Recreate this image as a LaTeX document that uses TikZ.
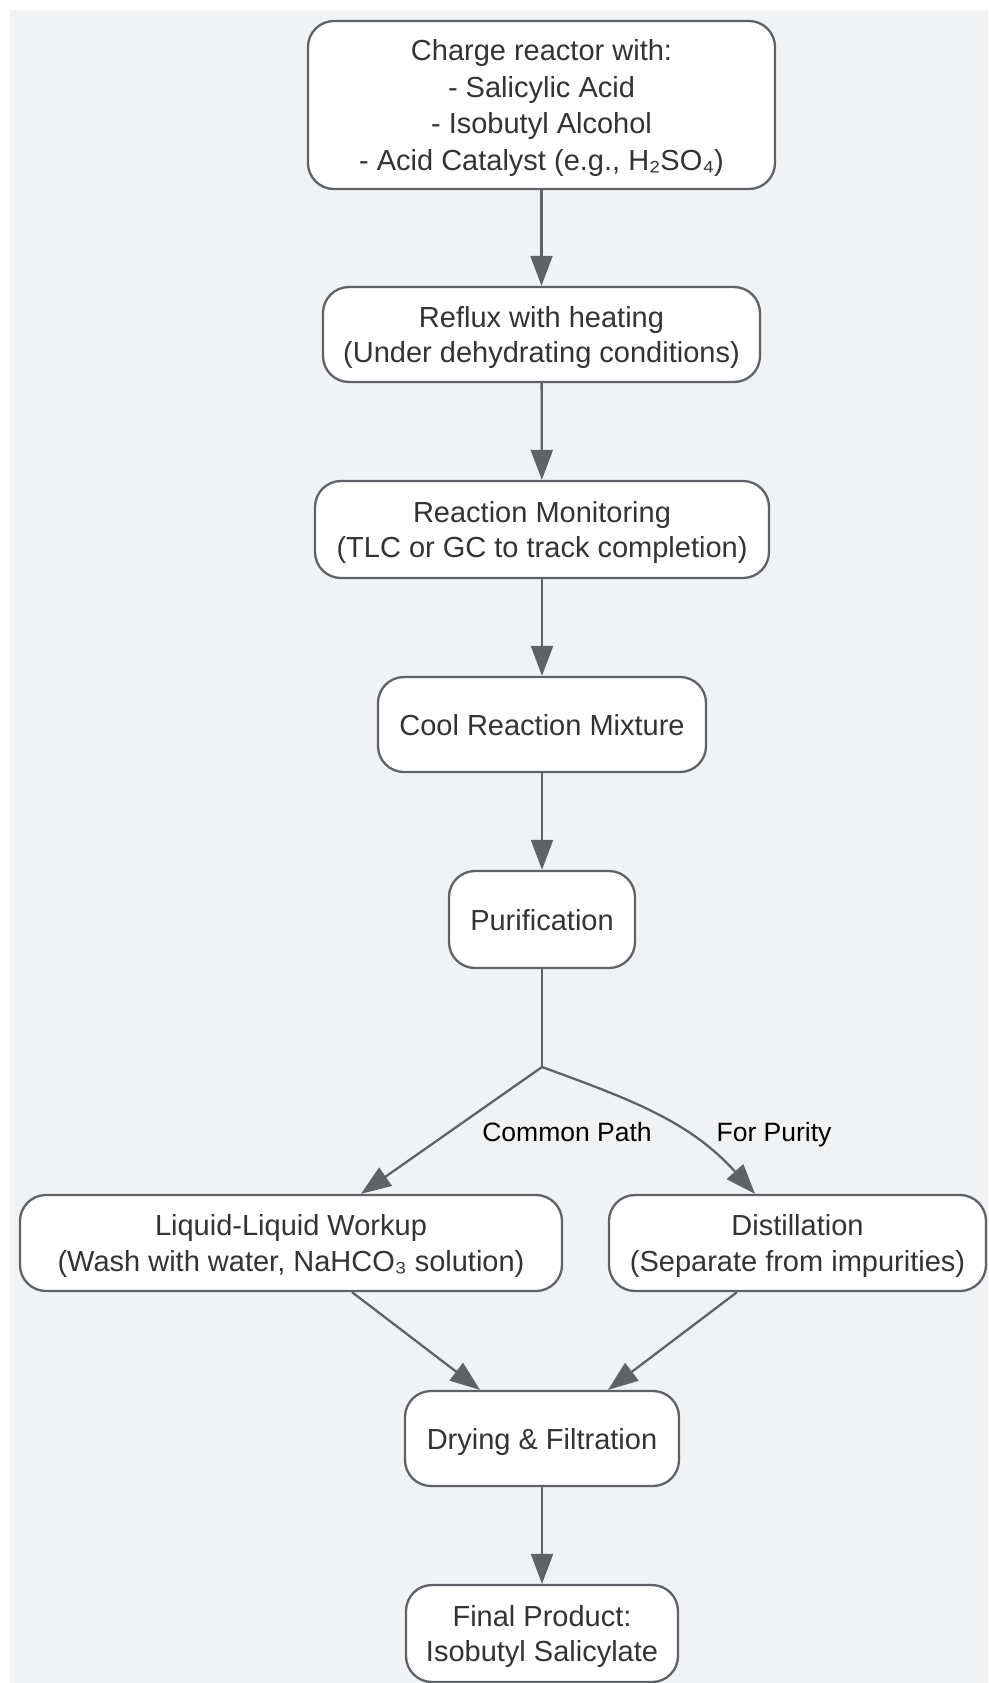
\documentclass[tikz,border=0pt]{standalone}
\usepackage{fontspec}
\setmainfont{Liberation Sans}
\usetikzlibrary{arrows.meta}
\definecolor{bgc}{HTML}{F1F2F4}
\definecolor{linec}{HTML}{5F6368}
\definecolor{txtc}{HTML}{333333}
\tikzset{
  box/.style={draw=linec, line width=2.3pt, fill=white, rounded corners=26pt,
    align=center, text=txtc, inner sep=0pt, text depth=0pt, font=\fontsize{29}{35.5}\selectfont},
  conn/.style={draw=linec, line width=2.3pt, -{Triangle[length=30pt,width=22pt]}},
  plain/.style={draw=linec, line width=2.3pt},
  lbl/.style={text=black, font=\fontsize{26.5}{30}\selectfont, inner sep=0pt, text depth=0pt}
}
\begin{document}
\begin{tikzpicture}[x=1pt,y=1pt]
\useasboundingbox (0,0) rectangle (988,-1683);
\fill[bgc] (10,-10) rectangle (988,-1683);

\node[box, minimum width=467pt, minimum height=168pt, font=\fontsize{29}{36.5}\selectfont] (n1) at (541.5,-105)
  {Charge reactor with:\\- Salicylic Acid\\- Isobutyl Alcohol\\- Acid Catalyst (e.g., H₂SO₄)};
\node[box, minimum width=437pt, minimum height=95pt] (n2) at (541.5,-334.5)
  {Reflux with heating\\(Under dehydrating conditions)};
\node[box, minimum width=454pt, minimum height=97pt] (n3) at (542,-529.5)
  {Reaction Monitoring\\(TLC or GC to track completion)};
\node[box, minimum width=328pt, minimum height=95pt] (n4) at (542,-724.5)
  {Cool Reaction Mixture};
\node[box, minimum width=186pt, minimum height=97pt] (n5) at (542,-919.5)
  {Purification};
\node[box, minimum width=542pt, minimum height=96pt] (nl) at (291,-1243)
  {Liquid-Liquid Workup\\(Wash with water, NaHCO₃ solution)};
\node[box, minimum width=377pt, minimum height=96pt] (nr) at (797.5,-1243)
  {Distillation\\(Separate from impurities)};
\node[box, minimum width=274pt, minimum height=95pt] (n6) at (542,-1438.5)
  {Drying \& Filtration};
\node[box, minimum width=272pt, minimum height=97pt] (n7) at (542,-1633.5)
  {Final Product:\\Isobutyl Salicylate};

\coordinate (b) at (542,-1067);

\draw[conn] (n1) -- (n2);
\draw[conn] (n2) -- (n3);
\draw[conn] (n3) -- (n4);
\draw[conn] (n4) -- (n5);
\draw[plain] (n5) -- (b);
\draw[conn] (b) -- ([xshift=70pt]nl.north);
\draw[conn] (b) to[out=-20, in=132] ([xshift=-42.5pt]nr.north);
\draw[conn] ([xshift=61pt]nl.south) -- ([xshift=-62pt]n6.north);
\draw[conn] ([xshift=-60.5pt]nr.south) -- ([xshift=66pt]n6.north);
\draw[conn] (n6) -- (n7);

\node[lbl] (l1) at (567,-1132) {Common Path};
\node[lbl] (l2) at (774,-1132) {For Purity};
\end{tikzpicture}
\end{document}
